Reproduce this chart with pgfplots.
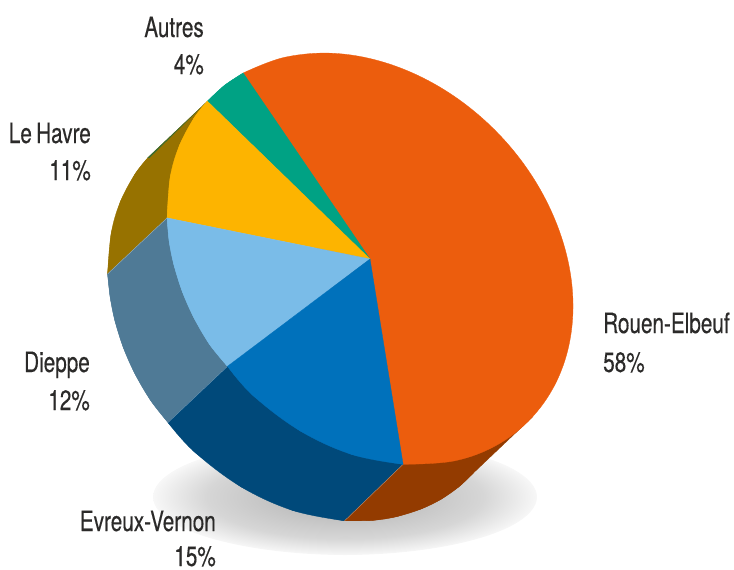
\documentclass[border=0pt]{standalone}
\usepackage{pgfplots}
\pgfplotsset{compat=1.18}
\usepackage{fontspec}
\setmainfont[FakeStretch=0.74,FakeBold=0.35]{TeX Gyre Heros}
\definecolor{corange}{HTML}{EC5D0D}
\definecolor{cgreen}{HTML}{00A284}
\definecolor{cyellow}{HTML}{FDB400}
\definecolor{clight}{HTML}{7ABCE8}
\definecolor{cblue}{HTML}{0071BB}
\definecolor{cnavy}{HTML}{00497A}
\definecolor{cslate}{HTML}{4F7A96}
\definecolor{cbrown}{HTML}{977200}
\definecolor{cdorange}{HTML}{933B00}
\definecolor{ctext}{HTML}{2B2A29}
\definecolor{csliver}{HTML}{3A6B30}
\pgfdeclareradialshading{shadowr}{\pgfpointorigin}{color(0bp)=(black!32); color(18bp)=(black!16); color(25bp)=(black!3); color(50bp)=(black!3)}
\tikzset{lab/.style={anchor=base east,text=ctext,font=\fontsize{28}{28}\selectfont,inner sep=0pt},
labl/.style={anchor=base west,text=ctext,font=\fontsize{28}{28}\selectfont,inner sep=0pt},
seg/.style={fill=#1,draw=#1,line width=0.3pt},
arc/.style={fill=#1,draw=#1,line width=0.3pt,smooth,tension=0.61},
seam/.style={draw=white,draw opacity=0.45,line width=0.35pt}}
\begin{document}
\begin{tikzpicture}
\useasboundingbox (0,0) rectangle (734pt,570pt);
\begin{axis}[scale only axis,width=734pt,height=570pt,xmin=0,xmax=734,ymin=0,ymax=570,y dir=reverse,hide axis,clip=false]
% shadow
\addplot[draw=none,shade,shading=shadowr,smooth cycle,tension=0.63] coordinates {(537,497)(511,526)(441,547)(345,555)(249,547)(179,526)(153,497)(179,468)(249,447)(345,439)(441,447)(511,468)};
% side faces: outer arc, then body
\addplot[arc=cbrown] coordinates {(148.4,157.2)(135.3,173.6)(120.4,201.6)(111.2,233.2)(107.6,273.9)};
\addplot[seg=cbrown] coordinates {(207.4,101.2)(148.4,157.2)(135.3,173.6)(120.4,201.6)(111.2,233.2)(107.6,273.9)(167.1,217.9)(207.4,101.2)};
\addplot[arc=cslate] coordinates {(107.6,273.9)(110.2,297.5)(114.9,320.7)(123.3,347.5)(135,373.9)(150.8,400.7)(168,422.5)};
\addplot[seg=cslate] coordinates {(107.6,273.9)(110.2,297.5)(114.9,320.7)(123.3,347.5)(135,373.9)(150.8,400.7)(168,422.5)(227.5,366.3)(167.1,217.9)(107.6,273.9)};
\addplot[arc=cnavy] coordinates {(168,422.5)(194.2,451.7)(241.2,486.9)(292.9,510.5)(344.6,520.8)};
\addplot[seg=cnavy] coordinates {(168,422.5)(194.2,451.7)(241.2,486.9)(292.9,510.5)(344.6,520.8)(403.1,464.3)(227.5,366.3)(168,422.5)};
\addplot[arc=cdorange] coordinates {(344.6,520.8)(373.3,520.3)(396.3,516.7)(421.2,508.9)(441.1,499.2)(459.2,486.5)(473.6,472.8)};
\addplot[seg=cdorange] coordinates {(344.6,520.8)(373.3,520.3)(396.3,516.7)(421.2,508.9)(441.1,499.2)(459.2,486.5)(473.6,472.8)(532.6,416.8)(403.1,464.3)(344.6,520.8)};
\addplot[fill=csliver,draw=none] coordinates {(207.4,101.2)(147.6,157.6)(149.2,158.2)(207.4,101.2)};
\addplot[seam] coordinates {(107.6,273.9)(167.1,217.9)};
\addplot[seam] coordinates {(168,422.5)(227.5,366.3)};
\addplot[seam] coordinates {(344.6,520.8)(403.1,464.3)};
% top faces: orange first, the other wedges cover the rest of its chord
\addplot[arc=corange] coordinates {(243.2,73)(284.7,57.3)(335.2,53.4)(388.1,63.6)(439.8,87.1)(486.8,122.3)(525.8,166.8)(554.1,217.6)(570,271.2)(572.2,323.9)(560.6,372.3)(536,412.9)(500.1,443.2)(455.3,460.7)(403.1,464.3)};
\addplot[arc=cgreen] coordinates {(207.4,101.2)(224.3,85.5)(243.2,73)};
\addplot[seg=cgreen] coordinates {(207.4,101.2)(224.3,85.5)(243.2,73)(370,259)(207.4,101.2)};
\addplot[arc=cyellow] coordinates {(167.1,217.9)(170.2,177.2)(179.4,145.6)(194.3,117.6)(207.4,101.2)};
\addplot[seg=cyellow] coordinates {(167.1,217.9)(170.2,177.2)(179.4,145.6)(194.3,117.6)(207.4,101.2)(370,259)(167.1,217.9)};
\addplot[arc=clight] coordinates {(167.1,217.9)(169.2,241.5)(173.9,264.7)(182.3,291.5)(194,317.9)(209.8,344.7)(227.5,366.3)};
\addplot[seg=clight] coordinates {(167.1,217.9)(169.2,241.5)(173.9,264.7)(182.3,291.5)(194,317.9)(209.8,344.7)(227.5,366.3)(370,259)(167.1,217.9)};
\addplot[arc=cblue] coordinates {(227.5,366.3)(253.2,395.7)(300.2,430.9)(351.9,454.5)(403.1,464.3)};
\addplot[seg=cblue] coordinates {(227.5,366.3)(253.2,395.7)(300.2,430.9)(351.9,454.5)(403.1,464.3)(370,259)(227.5,366.3)};
% labels
\node[lab] at (axis cs:204,37) {Autres};
\node[lab] at (axis cs:204,74) {4\%};
\node[lab] at (axis cs:91,143) {Le\hspace{-1.5pt} Havre};
\node[lab] at (axis cs:91,180) {11\%};
\node[lab] at (axis cs:90,372) {Dieppe};
\node[lab] at (axis cs:90,410) {12\%};
\node[lab] at (axis cs:216,531) {Evreux-Vernon};
\node[lab] at (axis cs:216,566) {15\%};
\node[labl] at (axis cs:603,333) {Rouen-Elbeuf};
\node[labl] at (axis cs:603,372) {58\%};
\end{axis}
\end{tikzpicture}
\end{document}
